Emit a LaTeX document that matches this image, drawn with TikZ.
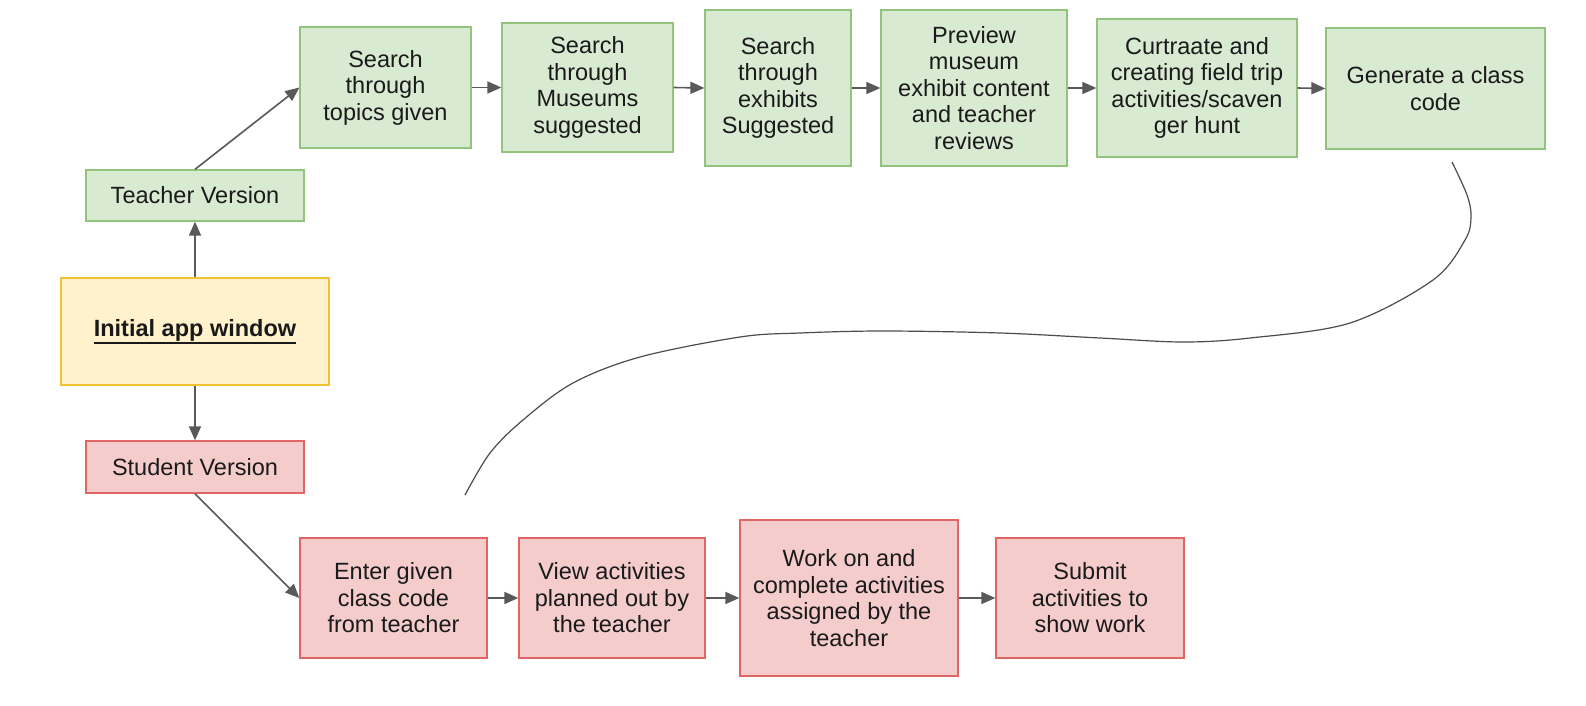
\documentclass[tikz,border=0pt]{standalone}
\usepackage{fontspec}
\setmainfont{Liberation Sans}
\usetikzlibrary{arrows.meta}
\newcommand{\thickul}[1]{\leavevmode\vtop{\hbox{#1}\kern1pt\hrule height 1.6pt}}
\definecolor{gfill}{HTML}{D9EAD3}
\definecolor{gline}{HTML}{93C47D}
\definecolor{yfill}{HTML}{FFF2CC}
\definecolor{yline}{HTML}{F1C232}
\definecolor{rfill}{HTML}{F4CCCC}
\definecolor{rline}{HTML}{E06666}
\definecolor{arrgray}{HTML}{595959}
\definecolor{txt}{HTML}{1A1A1A}
\tikzset{
  boxbase/.style={draw, line width=1.3pt, inner sep=0pt, align=center, text=txt,
    font=\fontsize{23.5}{26.5}\selectfont},
  gbox/.style={boxbase, fill=gfill, draw=gline},
  ybox/.style={boxbase, fill=yfill, draw=yline},
  rbox/.style={boxbase, fill=rfill, draw=rline},
  arr/.style={draw=arrgray, line width=1.6pt, -{Triangle[length=14pt,width=12pt]}},
  curveline/.style={draw=arrgray!85!black, line width=1.2pt}
}
\begin{document}
\begin{tikzpicture}[x=1pt,y=-1pt]
\useasboundingbox[fill=white] (0,0) rectangle (1586,706);
% top row
\node[gbox, minimum width=171pt, minimum height=121pt] (t1) at (385.5,87.5) {Search\\through\\topics given};
\node[gbox, minimum width=171pt, minimum height=129pt] (t2) at (587.5,87.5) {Search\\through\\Museums\\suggested};
\node[gbox, minimum width=146pt, minimum height=156pt] (t3) at (778,88) {Search\\through\\exhibits\\Suggested};
\node[gbox, minimum width=186pt, minimum height=156pt] (t4) at (974,88) {Preview\\museum\\exhibit content\\and teacher\\reviews};
\node[gbox, minimum width=200pt, minimum height=138pt] (t5) at (1197,88) {Curtraate and\\creating field trip\\activities/scaven\\ger hunt};
\node[gbox, minimum width=219pt, minimum height=121pt] (t6) at (1435.5,88.5) {Generate a class\\code};
% left column
\node[gbox, minimum width=218pt, minimum height=51pt] (teacher) at (195,195.5) {Teacher Version};
\node[ybox, minimum width=268pt, minimum height=107pt] (init) at (195,331.5) {\textbf{\thickul{Initial app window}}};
\node[rbox, minimum width=218pt, minimum height=52pt] (student) at (195,467) {Student Version};
% bottom row
\node[rbox, minimum width=187pt, minimum height=120pt] (s1) at (393.5,598) {Enter given\\class code\\from teacher};
\node[rbox, minimum width=186pt, minimum height=120pt] (s2) at (612,598) {View activities\\planned out by\\the teacher};
\node[rbox, minimum width=218pt, minimum height=156pt] (s3) at (849,598) {Work on and\\complete activities\\assigned by the\\teacher};
\node[rbox, minimum width=188pt, minimum height=120pt] (s4) at (1090,598) {Submit\\activities to\\show work};
% connectors
\draw[arr] (init.north) -- (teacher.south);
\draw[arr] (init.south) -- (student.north);
\draw[arr] (teacher.north) -- (t1.west);
\draw[arr] (t1.east) -- (t2.west);
\draw[arr] (t2.east) -- (t3.west);
\draw[arr] (t3.east) -- (t4.west);
\draw[arr] (t4.east) -- (t5.west);
\draw[arr] (t5.east) -- (t6.west);
\draw[arr] (student.south) -- (s1.west);
\draw[arr] (s1.east) -- (s2.west);
\draw[arr] (s2.east) -- (s3.west);
\draw[arr] (s3.east) -- (s4.west);
% free curve
\coordinate (cs) at (1452,162);
\coordinate (ce) at (465,495);
\draw[curveline] plot[smooth, tension=0.55] coordinates {(cs) (1467,195) (1471,217) (1465,240) (1433,280) (1350,323) (1250,338) (1183,342) (1100,338) (1000,333) (883,331) (800,333) (740,337) (640,357) (573,383) (523,420) (490,453) (ce)};
\end{tikzpicture}
\end{document}
